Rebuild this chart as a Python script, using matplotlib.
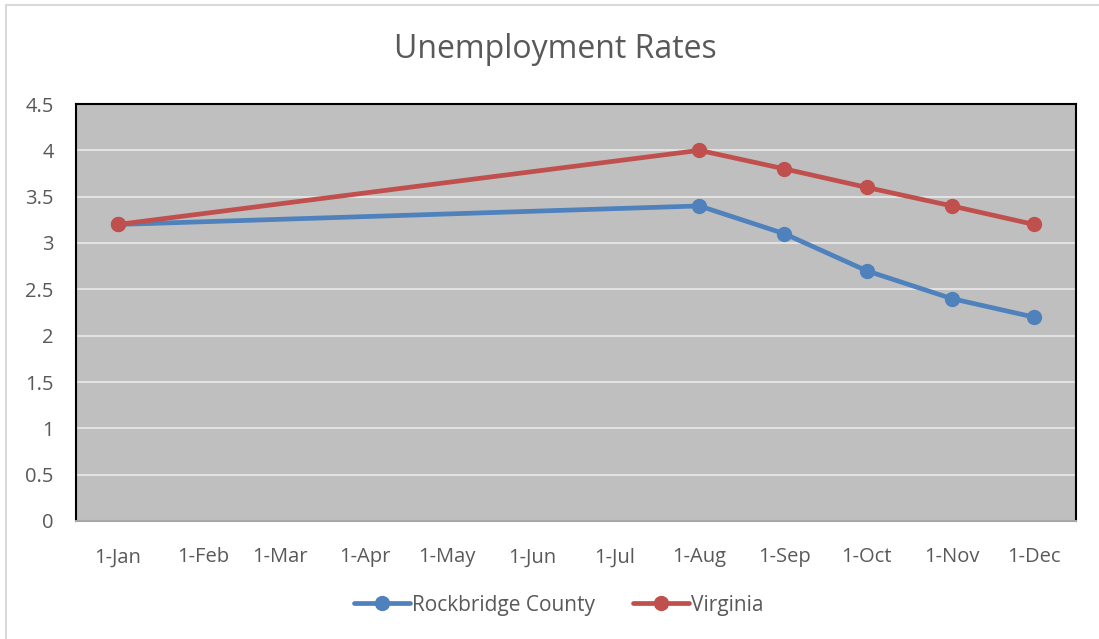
import numpy as np
import pandas as pd
import matplotlib
matplotlib.use("Agg")
import matplotlib.pyplot as plt
import matplotlib.dates as mdates
from matplotlib.patches import Rectangle

# data
dates = ["2019-01-01", "2019-08-01", "2019-09-01", "2019-10-01", "2019-11-01", "2019-12-01"]
rockbridge = [3.2, 3.4, 3.1, 2.7, 2.4, 2.2]
virginia = [3.2, 4.0, 3.8, 3.6, 3.4, 3.2]
tick_dates = pd.date_range("2019-01-01", "2019-12-01", freq="MS")
y_ticks = [0, 0.5, 1, 1.5, 2, 2.5, 3, 3.5, 4, 4.5]

x = pd.to_datetime(dates)
text_color = "#595959"
plt.rcParams["font.family"] = ["Open Sans", "DejaVu Sans"]

fig = plt.figure(figsize=(10.99, 6.39), dpi=100)
W, H = 1099, 639
ax = fig.add_axes([76 / W, (H - 521) / H, 1000 / W, 417 / H])

# outer chart border
fig.patches.append(Rectangle((6 / W, -0.01), 1.02, 1 - 5 / H + 0.01, transform=fig.transFigure,
                             fill=False, edgecolor="#D9D9D9", linewidth=1.5))

ax.set_facecolor("#BFBFBF")
ax.plot(x, rockbridge, color="#4F81BD", linewidth=3.4, marker="o", markersize=10,
        label="Rockbridge County", solid_capstyle="round", zorder=3)
ax.plot(x, virginia, color="#C0504D", linewidth=3.4, marker="o", markersize=10,
        label="Virginia", solid_capstyle="round", zorder=4)

pad = pd.Timedelta(days=15.3)
ax.set_xlim(tick_dates[0] - pad, tick_dates[-1] + pad)
ax.set_ylim(0, 4.5)
ax.set_xticks(tick_dates)
ax.xaxis.set_major_formatter(mdates.DateFormatter("1-%b"))
ax.set_yticks(y_ticks)
ax.set_yticklabels([f"{v:g}" for v in y_ticks])
ax.grid(axis="y", color="#E6E6E6", linewidth=1.3)
ax.set_axisbelow(True)
ax.tick_params(length=0, labelsize=14.5, colors=text_color)
ax.tick_params(axis="x", pad=19)
ax.tick_params(axis="y", pad=16)

for side in ["left", "top", "right"]:
    ax.spines[side].set_color("black")
    ax.spines[side].set_linewidth(1.5)
ax.spines["bottom"].set_color("#A6A6A6")
ax.spines["bottom"].set_linewidth(1.5)

fig.text(555 / W, 1 - 50 / H, "Unemployment Rates", ha="center", va="center",
         fontsize=23, color=text_color)

leg = fig.legend(loc="center", bbox_to_anchor=(559 / W, 1 - 605 / H), ncol=2, frameon=False,
                 fontsize=15, handlelength=2.7, handletextpad=0.1, columnspacing=1.8)
for t in leg.get_texts():
    t.set_color(text_color)

fig.savefig("out.png", dpi=100)
